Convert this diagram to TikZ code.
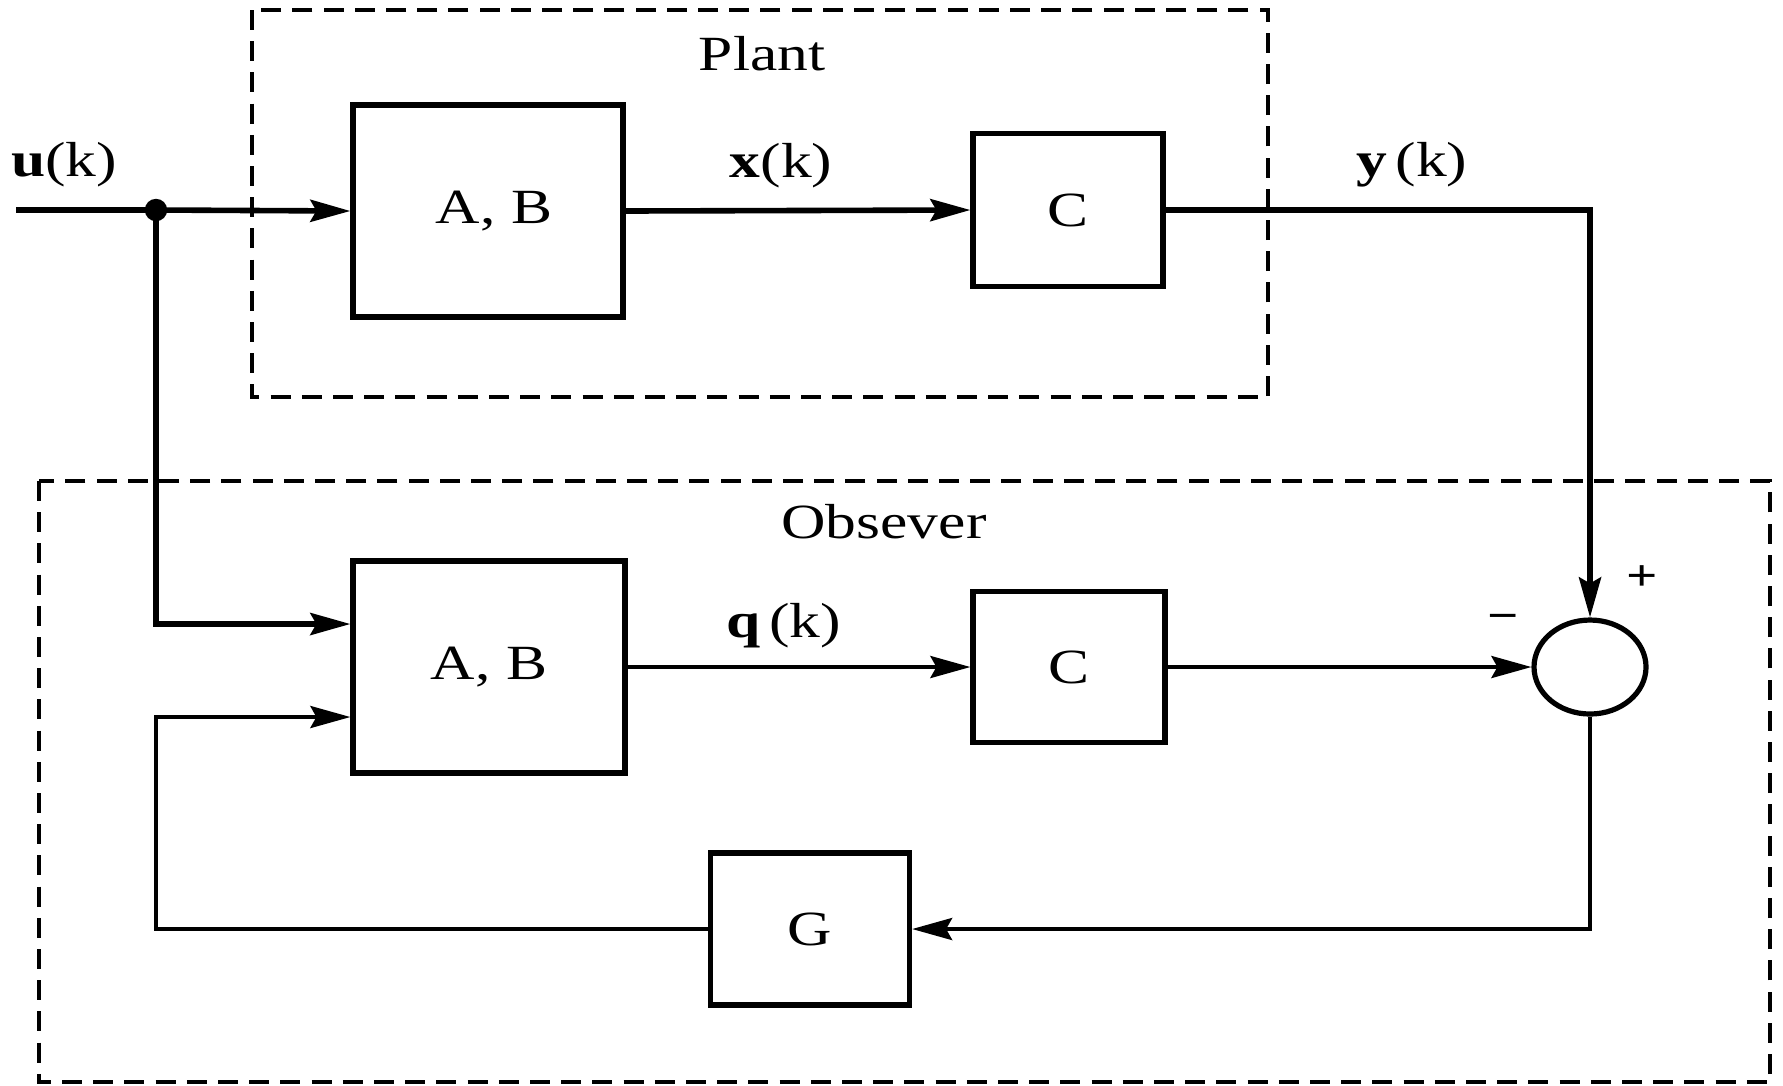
\documentclass[tikz,border=0pt]{standalone}
\usepackage{fontspec}
\setmainfont[FakeStretch=1.25]{Liberation Serif}
\usetikzlibrary{arrows.meta,calc,shapes.geometric}

\begin{document}
\begin{tikzpicture}[x=0.25pt,y=-0.25pt,
  font=\fontsize{12.3}{14}\selectfont,
  blk/.style={draw,line width=1.3pt,rectangle,inner sep=0pt},
  sumnode/.style={draw,line width=1.3pt,ellipse,inner sep=0pt,minimum width=28pt,minimum height=23.5pt},
  wire/.style={line width=1.4pt},
  thinwire/.style={line width=1pt},
  arr/.style={-{Stealth[length=10pt,width=5.5pt,inset=1.5pt]}},
  groupbox/.style={line width=0.8pt,dash pattern=on 5pt off 2.8pt},
  sig/.style={anchor=base,inner sep=0pt},
  sgn/.style={inner sep=0pt,font=\fontsize{11}{12}\selectfont\bfseries}]

\useasboundingbox (0,0) rectangle (1783,1085);

% grouping frames
\draw[groupbox] (252,10) rectangle (1268,397);
\draw[groupbox] (39,481) rectangle (1770,1082);
\node[sig] (plantlbl) at (762,70) {Plant};
\node[sig] (obslbl) at (884,538) {Obsever};

% plant blocks
\node[blk,minimum width=67.5pt,minimum height=53pt] (ab1) at (488,211) {\hspace{3pt}A, B};
\node[blk,minimum width=47.5pt,minimum height=38.25pt] (c1) at (1068,210) {C};

% observer blocks
\node[blk,minimum width=68pt,minimum height=53pt] (ab2) at (489,667) {A, B};
\node[blk,minimum width=48pt,minimum height=37.75pt] (c2) at (1069,667) {C};
\node[blk,minimum width=49.75pt,minimum height=38pt] (g) at (810,929) {G};
\node[sumnode] (sum) at (1590,667) {};

% signal labels
\node[sig] (ulbl) at (64,176) {\textbf{u}(k)};
\node[sig] (xlbl) at (781,177) {\textbf{x}(k)};
\node[sig] (ylbl) at (1412,176) {\textbf{y}\,(k)};
\node[sig] (qlbl) at (784,637) {\textbf{q}\,(k)};
\node[sgn] (plus) at (1642,578) {+};
\node[sgn] (minus) at (1503,622) {\char"2212};

% plant signal path
\coordinate (uin) at (16,210);
\coordinate (split) at (156,210);
\draw[wire] (uin) -- (split);
\fill (split) circle (2.8pt);
\draw[wire,arr] (split) -- (ab1.west);
\draw[wire,arr] (ab1.east) -- (c1.west);
\draw[wire,arr] (c1.east) -| (sum.north);

% observer signal path
\draw[wire,arr] (split) |- ($(ab2.west)+(0,-43)$);
\draw[thinwire,arr] (ab2.east) -- (c2.west);
\draw[thinwire,arr] (c2.east) -- (sum.west);
\draw[thinwire,arr] (sum.south) |- (g.east);
\coordinate (fbcorner) at (156,929);
\draw[thinwire,arr] (g.west) -- (fbcorner) |- ($(ab2.west)+(0,50)$);

\end{tikzpicture}
\end{document}
